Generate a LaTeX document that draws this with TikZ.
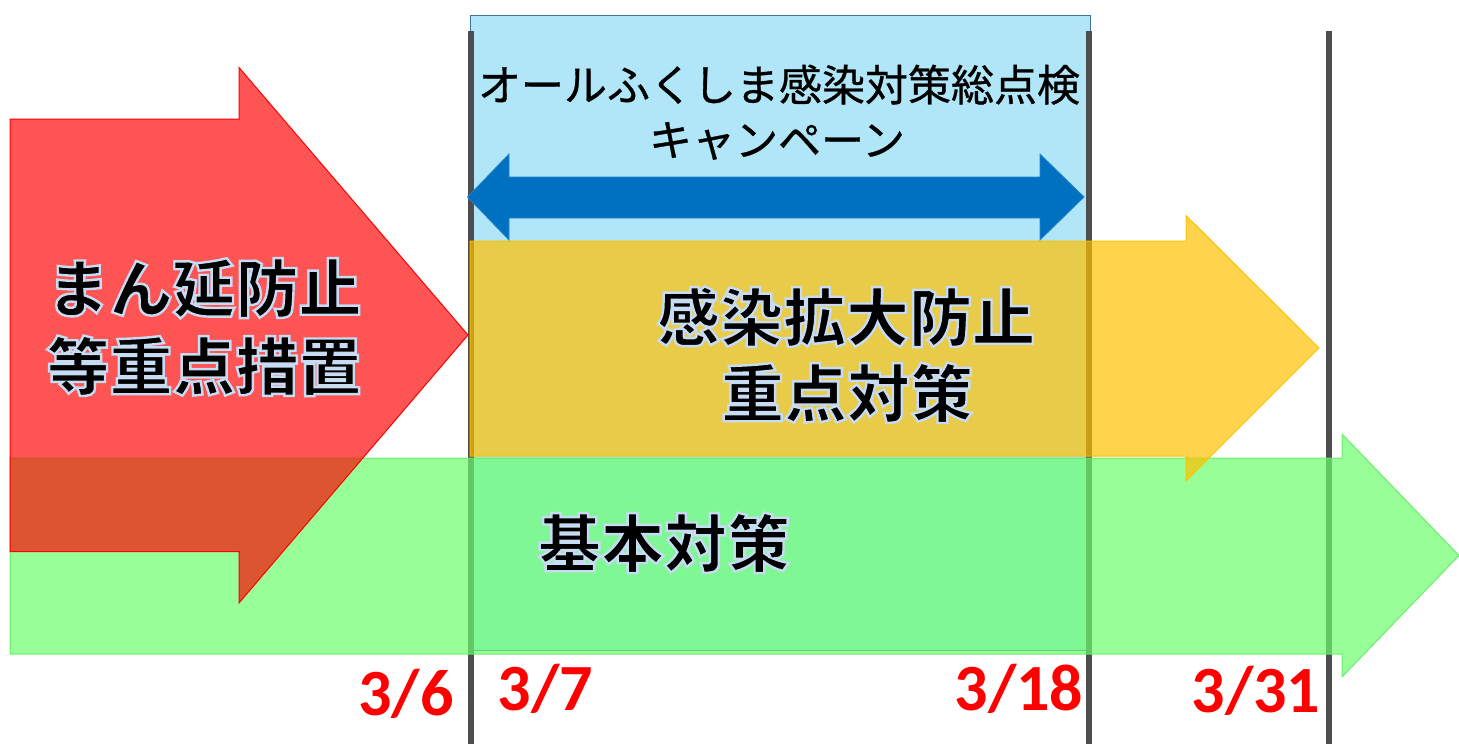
\documentclass[tikz,border=0pt]{standalone}
\usepackage{fontspec}
\newfontfamily\jp{Noto Sans CJK JP}
\newfontfamily\jpcamp[FakeBold=0.7]{Noto Sans CJK JP}
\newfontfamily\numfont{Carlito}
\definecolor{campblue}{RGB}{176,230,248}
\definecolor{campedge}{RGB}{65,113,156}
\definecolor{arrowblue}{RGB}{0,112,192}
\definecolor{gridgrey}{RGB}{77,77,77}
\definecolor{gold}{RGB}{255,192,0}
\definecolor{lgreen}{RGB}{108,255,108}
\definecolor{greenedge}{RGB}{100,235,100}
\newcommand{\glowtext}[1]{\special{pdf:code 2 Tr 2.4 w 0.78 0.86 0.95 RG}#1\special{pdf:code 0 Tr}}
\tikzset{
  bigjp/.style={font=\jp\bfseries\fontsize{63}{76}\selectfont, text=black, inner sep=0pt, anchor=base},
  campjp/.style={font=\jpcamp\fontsize{43}{52}\selectfont, text=black, inner sep=0pt, anchor=base},
  datelbl/.style={font=\numfont\bfseries\fontsize{66}{80}\selectfont, text=red, inner sep=0pt, anchor=base},
  dayline/.style={draw=gridgrey, line width=6pt},
  greenarrow/.style={fill=lgreen, fill opacity=0.7, draw=greenedge, draw opacity=0.9, line width=1pt},
  goldarrow/.style={fill=gold, fill opacity=0.7, draw=gold, line width=1pt},
  redarrow/.style={fill=red, fill opacity=0.67, draw=red, line width=1pt},
}
\begin{document}
\begin{tikzpicture}[x=1pt,y=-1pt]
\useasboundingbox (0,0) rectangle (1459,744);
% campaign box
\draw[fill=campblue, draw=campedge, line width=1pt] (470,15) rectangle (1090,650);
% day lines
\coordinate (l1t) at (471,31); \coordinate (l1b) at (471,744);
\coordinate (l2t) at (1089,31); \coordinate (l2b) at (1089,744);
\coordinate (l3t) at (1329,31); \coordinate (l3b) at (1329,744);
\draw[dayline] (l1t) -- (l1b);
\draw[dayline] (l2t) -- (l2b);
\draw[dayline] (l3t) -- (l3b);
% green arrow
\draw[greenarrow] (10,458) -- (1342,458) -- (1342,434) -- (1459,555.5) -- (1342,677) -- (1342,654) -- (10,654) -- cycle;
% gold arrow
\draw[goldarrow] (470,241) -- (1186,241) -- (1186,215.5) -- (1319,348) -- (1186,481) -- (1186,456) -- (470,456) -- cycle;
% red arrow
\draw[redarrow] (10,119) -- (239,119) -- (239,67.5) -- (468,335) -- (239,603) -- (239,551.5) -- (10,551.5) -- cycle;
% blue double arrow
\draw[fill=arrowblue, draw=arrowblue!85!white, line width=0.8pt] (467.5,197) -- (509,154) -- (509,177) -- (1040,177) -- (1040,154) -- (1084,197) -- (1040,240) -- (1040,218) -- (509,218) -- (509,240) -- cycle;
% texts
\node[campjp] (campA) at (779,101) {オールふくしま感染対策総点検};
\node[campjp] (campB) at (777,156) {キャンペーン};
\node[bigjp] (redA) at (204,312) {\glowtext{まん延防止}};
\node[bigjp] (redB) at (204,390) {\glowtext{等重点措置}};
\node[bigjp] (goldA) at (846,341) {\glowtext{感染拡大防止}};
\node[bigjp] (goldB) at (847,417) {\glowtext{重点対策}};
\node[bigjp] (greenA) at (664,567) {\glowtext{基本対策}};
\node[datelbl] (d6) at (406,715) {3/6};
\node[datelbl] (d7) at (545.5,710) {3/7};
\node[datelbl] (d18) at (1019,710) {3/18};
\node[datelbl] (d31) at (1256,712) {3/31};
\end{tikzpicture}
\end{document}
